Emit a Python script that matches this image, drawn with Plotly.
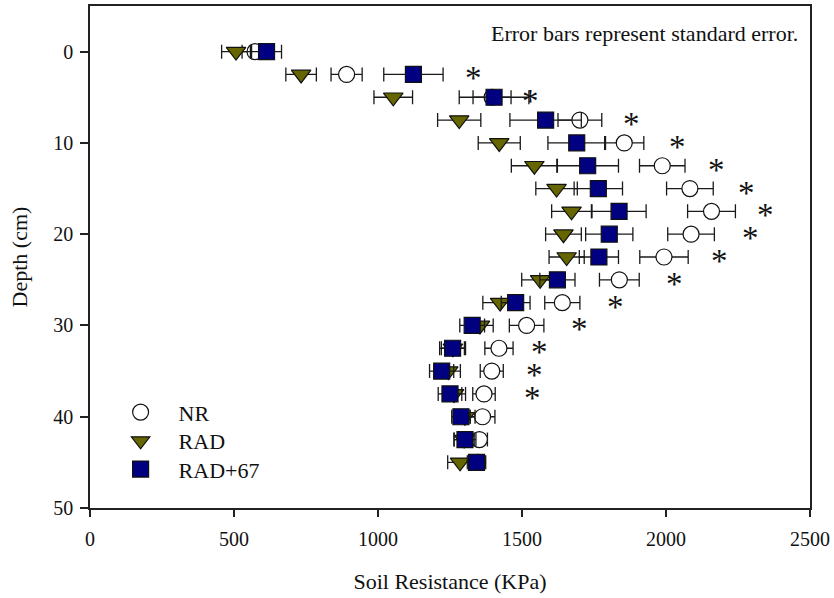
import plotly.graph_objects as go

# ---------------- data ----------------
depth = [0, 2.5, 5, 7.5, 10, 12.5, 15, 17.5, 20, 22.5, 25, 27.5, 30, 32.5, 35, 37.5, 40, 42.5, 45]

nr_val = [573, 891, 1396, 1701, 1855, 1987, 2083, 2158, 2087, 1993, 1838, 1640, 1516, 1420, 1395, 1368, 1363, 1352, 1346]
nr_err = [45, 54, 66, 76, 68, 79, 81, 83, 81, 84, 69, 61, 60, 49, 40, 39, 43, 28, 25]

rad_val = [507, 733, 1053, 1282, 1421, 1543, 1620, 1672, 1644, 1655, 1563, 1424, 1354, 1260, 1244, 1264, 1302, 1299, 1285]
rad_err = [50, 53, 67, 75, 73, 80, 72, 69, 62, 61, 64, 60, 46, 40, 42, 40, 35, 35, 43]

rad67_val = [613, 1123, 1403, 1582, 1690, 1728, 1765, 1837, 1803, 1767, 1623, 1478, 1327, 1259, 1221, 1250, 1288, 1302, 1342]
rad67_err = [52, 103, 121, 124, 100, 107, 84, 94, 82, 68, 61, 50, 43, 45, 42, 41, 32, 38, 32]

sig_depth = [2.5, 5, 7.5, 10, 12.5, 15, 17.5, 20, 22.5, 25, 27.5, 30, 32.5, 35, 37.5]
sig_x = [1333, 1531, 1881, 2040, 2176, 2280, 2344, 2292, 2185, 2031, 1823, 1698, 1560, 1543, 1536]

x_ticks = [0, 500, 1000, 1500, 2000, 2500]
y_ticks = [0, 10, 20, 30, 40, 50]

series_names = ["NR", "RAD", "RAD+67"]
note_text = "Error bars represent standard error."
x_title = "Soil Resistance (KPa)"
y_title = "Depth (cm)"

# ---------------- figure ----------------
FONT = "Liberation Serif, Times New Roman, serif"
OLIVE = "#666600"
NAVY = "#000080"
INK = "#111111"

def err(arr):
    return dict(type="data", array=arr, visible=True, color="#1a1a1a", thickness=1.3, width=7)

fig = go.Figure()
fig.add_trace(go.Scatter(
    x=nr_val, y=depth, mode="markers", name=series_names[0], legend="legend",
    error_x=err(nr_err),
    marker=dict(symbol="circle", size=16, color="white", line=dict(color=INK, width=1.2)),
))
fig.add_trace(go.Scatter(
    x=rad_val, y=depth, mode="markers", name=series_names[1], legend="legend2",
    error_x=err(rad_err),
    marker=dict(symbol="triangle-down", size=17, color=OLIVE, line=dict(color=INK, width=1.2)),
))
fig.add_trace(go.Scatter(
    x=rad67_val, y=depth, mode="markers", name=series_names[2], legend="legend3",
    error_x=err(rad67_err),
    marker=dict(symbol="square", size=16, color=NAVY, line=dict(color=INK, width=1.2)),
))

# significance asterisks, placed at data coordinates
for sx, sd in zip(sig_x, sig_depth):
    fig.add_annotation(
        x=sx, y=sd, xref="x", yref="y", text="*", showarrow=False,
        xanchor="center", yanchor="middle", yshift=-4,
        font=dict(family=FONT, size=33, color=INK),
    )

fig.add_annotation(
    x=0.986, y=0.946, xref="paper", yref="paper", text=note_text, showarrow=False,
    xanchor="right", yanchor="middle", font=dict(family=FONT, size=22, color=INK),
)

def leg(ypos):
    return dict(
        x=0.0175, y=ypos, xanchor="left", yanchor="middle",
        bgcolor="rgba(0,0,0,0)", borderwidth=0,
        font=dict(family=FONT, size=22, color=INK),
        itemwidth=66,
    )

fig.update_layout(
    width=834, height=598,
    margin=dict(l=90, r=24, t=6, b=90, autoexpand=False),
    paper_bgcolor="white", plot_bgcolor="white",
    font=dict(family=FONT, size=21, color=INK),
    showlegend=True,
    legend=leg(0.1906),
    legend2=leg(0.1335),
    legend3=leg(0.0771),
)
fig.update_xaxes(
    range=[0, 2500], tickvals=x_ticks, ticktext=[str(v) for v in x_ticks],
    showgrid=False, zeroline=False, showline=True, linecolor="#222", linewidth=1.5,
    mirror=True, ticks="outside", ticklen=7, tickwidth=1.5, tickcolor="#222",
    automargin=False, ticklabelstandoff=5,
    title=dict(text=x_title, font=dict(family=FONT, size=22), standoff=25),
    tickfont=dict(family=FONT, size=20),
)
fig.update_yaxes(
    range=[50, -5], tickvals=y_ticks, ticktext=[str(v) for v in y_ticks],
    showgrid=False, zeroline=False, showline=True, linecolor="#222", linewidth=1.5,
    mirror=True, ticks="outside", ticklen=8, tickwidth=1.5, tickcolor="#222",
    automargin=False, ticklabelstandoff=3,
    title=dict(text=y_title, font=dict(family=FONT, size=22), standoff=20),
    tickfont=dict(family=FONT, size=20),
)

fig.write_html("out.html", config={"displayModeBar": False},
               post_script="document.body.style.margin='0';")
